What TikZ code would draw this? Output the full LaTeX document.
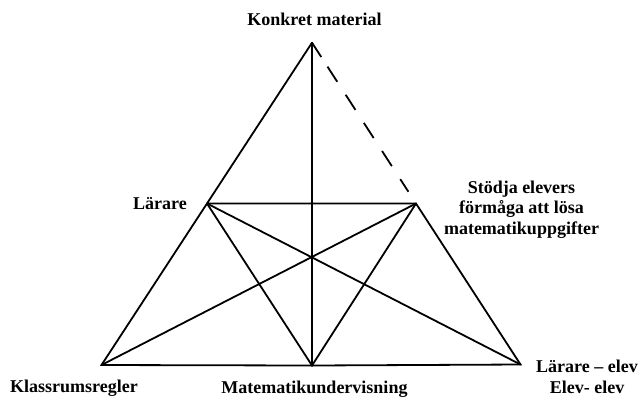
\documentclass[tikz,border=0pt]{standalone}
\usepackage{fontspec}
\setmainfont{Liberation Serif}
\begin{document}
\begin{tikzpicture}[x=1pt,y=-1pt,
  edge/.style={line width=1.8pt,line cap=round,line join=miter},
  dashedge/.style={line width=1.8pt,dash pattern=on 17pt off 11.5pt on 18pt off 15.5pt on 18pt off 15.5pt on 18pt off 15.5pt on 18pt off 15.5pt on 15pt off 40pt},
  lab/.style={font=\bfseries\fontsize{18}{20.5}\selectfont,inner sep=0pt,anchor=base,align=center}]
\useasboundingbox (0,0) rectangle (639,400);
\coordinate (A) at (312,42.7);
\coordinate (L) at (207,203.5);
\coordinate (R) at (416,203.5);
\coordinate (BL) at (101.5,365);
\coordinate (BM) at (312,365.5);
\coordinate (BR) at (520.5,364.5);
% solid lines
\draw[edge] (A) -- (L) -- (BL) -- (BM) -- (BR) -- (R) -- (L);
\draw[edge] (A) -- (BM);
\draw[edge] (BL) -- (R);
\draw[edge] (BR) -- (L);
\draw[edge] (L) -- (BM) -- (R);
% dashed
\draw[dashedge] (A) -- (R);
% labels
\node[lab] (konkret) at (314.5,25) {Konkret material};
\node[lab] (larare) at (160,209) {Lärare};
\node[lab] (stodja) at (521.5,234) {Stödja elevers\\förmåga att lösa\\matematikuppgifter};
\node[lab] (klass) at (74,392) {Klassrumsregler};
\node[lab] (matte) at (314.5,393) {Matematikundervisning};
\node[lab] (elev) at (587,393) {Lärare – elev\\Elev- elev};
\end{tikzpicture}
\end{document}
